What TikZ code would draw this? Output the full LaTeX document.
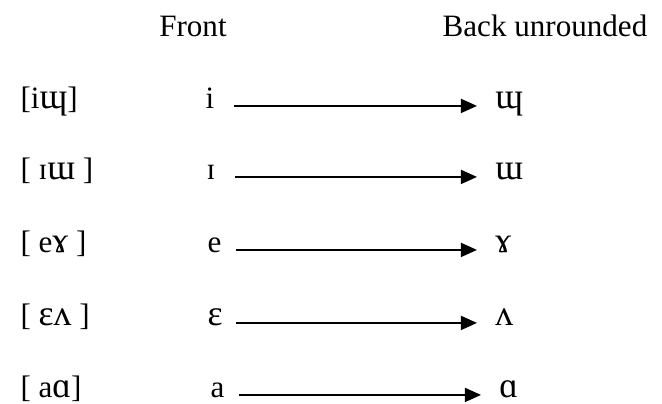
\documentclass[tikz,border=0pt]{standalone}
\usepackage{fontspec}
\usepackage{graphicx}
\setmainfont{Liberation Serif}
\usetikzlibrary{arrows.meta}

% IPA letters of the reference are set a bit larger than Liberation's
\newcommand{\wide}[1]{\scalebox{1.15}{#1}}

\begin{document}
\begin{tikzpicture}[
  x=0.386pt, y=-0.386pt,
  font=\fontsize{12}{14}\selectfont,
  head/.style={anchor=base,inner sep=0pt},
  pair/.style={anchor=base west,inner sep=0pt},
  front/.style={anchor=base west,inner sep=0pt,text width=10.8pt,align=left},
  back/.style={anchor=base west,inner xsep=6.9pt,inner ysep=0pt},
  backing/.style={->,line width=0.7pt},
  >={Triangle[length=6.2pt,width=5.4pt]}
]
  \useasboundingbox (0,0) rectangle (662,403);
  \node[head] (H1) at (193,36) {Front};
  \node[head] (H2) at (545,36) {Back unrounded};
  \node[pair] (P1) at (20,108) {[i\wide{ɰ}]};
  \node[pair] (P2) at (20,179) {[ ɪ\wide{ɯ} ]};
  \node[pair] (P3) at (20,252) {[ e\wide{ɤ} ]};
  \node[pair] (P4) at (20,325) {[ \wide{ɛʌ} ]};
  \node[pair] (P5) at (20,397) {[ a\wide{ɑ}]};
  \node[front] (F1) at (205,108) {i};
  \node[front] (F2) at (206,179) {ɪ};
  \node[front] (F3) at (207,252) {e};
  \node[front] (F4) at (207,325) {\wide{ɛ}};
  \node[front] (F5) at (210,397) {a};
  \node[back] (B1) at (477,108) {\wide{ɰ}};
  \node[back] (B2) at (477,179) {\wide{ɯ}};
  \node[back] (B3) at (477,252) {\wide{ɤ}};
  \node[back] (B4) at (477,325) {\wide{ʌ}};
  \node[back] (B5) at (481,397) {\wide{ɑ}};
  \draw[backing] ([yshift=0.8pt]F1.base east) -- ([yshift=0.8pt]B1.base west);
  \draw[backing] ([yshift=0.8pt]F2.base east) -- ([yshift=0.8pt]B2.base west);
  \draw[backing] ([yshift=0.8pt]F3.base east) -- ([yshift=0.8pt]B3.base west);
  \draw[backing] ([yshift=0.8pt]F4.base east) -- ([yshift=0.8pt]B4.base west);
  \draw[backing] ([yshift=0.8pt]F5.base east) -- ([yshift=0.8pt]B5.base west);
\end{tikzpicture}
\end{document}
